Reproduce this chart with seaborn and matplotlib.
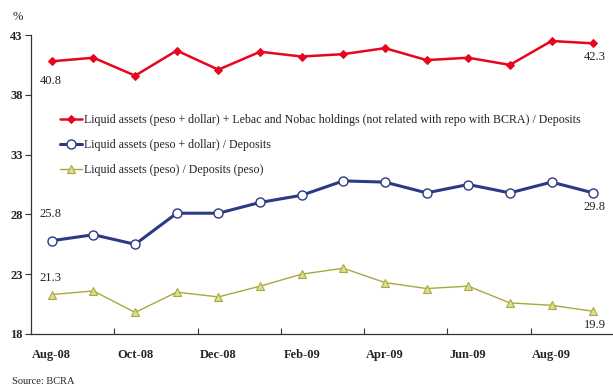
import matplotlib
matplotlib.use("Agg")
import matplotlib.pyplot as plt
import seaborn as sns
import pandas as pd

months = ["Aug-08", "Sep-08", "Oct-08", "Nov-08", "Dec-08", "Jan-09", "Feb-09",
          "Mar-09", "Apr-09", "May-09", "Jun-09", "Jul-09", "Aug-09", "Sep-09"]

liquid_plus_lebac = [40.8, 41.1, 39.6, 41.7, 40.1, 41.6, 41.2,
                     41.4, 41.9, 40.9, 41.1, 40.5, 42.5, 42.3]
liquid_total = [25.8, 26.3, 25.5, 28.1, 28.1, 29.0, 29.6,
                30.8, 30.7, 29.8, 30.5, 29.8, 30.7, 29.8]
liquid_peso = [21.3, 21.6, 19.8, 21.5, 21.1, 22.0, 23.0,
               23.5, 22.3, 21.8, 22.0, 20.6, 20.4, 19.9]

series_names = [
    "Liquid assets (peso + dollar) + Lebac and Nobac holdings (not related with repo with BCRA) / Deposits",
    "Liquid assets (peso + dollar) / Deposits",
    "Liquid assets (peso) / Deposits (peso)",
]
tick_labels = months[::2]
y_ticks = [18, 23, 28, 33, 38, 43]

sns.set_theme(style="white")
plt.rcParams["font.family"] = ["Liberation Serif", "DejaVu Serif"]

df = pd.DataFrame({"month": months,
                   "pos": range(len(months)),
                   "a": liquid_plus_lebac,
                   "b": liquid_total,
                   "c": liquid_peso})

fig = plt.figure(figsize=(6.13, 3.87), dpi=100)
ax = fig.add_axes([31 / 613, 53 / 387, 583 / 613, 299 / 387])

red = "#E8061E"
navy = "#2B3A84"
olive = "#A9A93A"

sns.lineplot(data=df, x="pos", y="a", ax=ax, color=red, lw=1.8,
             marker="D", markersize=4.5, markeredgecolor=red,
             markerfacecolor=red, label=series_names[0])
sns.lineplot(data=df, x="pos", y="b", ax=ax, color=navy, lw=2.2,
             marker="o", markersize=6.5, markeredgecolor=navy,
             markerfacecolor="white", markeredgewidth=1.0,
             label=series_names[1])
sns.lineplot(data=df, x="pos", y="c", ax=ax, color=olive, lw=1.0,
             marker="^", markersize=6, markeredgecolor=olive,
             markerfacecolor="#DCDC98", markeredgewidth=0.8,
             label=series_names[2])

ax.set_xlim(-0.5, len(months) - 0.5)
ax.set_ylim(18, 43)
ax.set_xlabel("")
ax.set_ylabel("")

# category labels on every other month, tick marks on category boundaries
ax.set_xticks(range(0, len(months), 2))
ax.set_xticklabels(tick_labels, fontweight="bold", fontsize=9)
ax.set_xticks([i + 1.5 for i in range(0, len(months) - 1, 2)], minor=True)
ax.tick_params(axis="x", which="major", length=0, pad=11)
ax.tick_params(axis="x", which="minor", direction="in", length=4,
               width=0.8, color="#333333", bottom=True)

ax.set_yticks(y_ticks)
ax.set_yticklabels([str(v) for v in y_ticks], fontweight="bold", fontsize=9)
ax.tick_params(axis="y", direction="out", length=4, width=0.8,
               color="#333333", left=True, pad=2)

for side in ["top", "right"]:
    ax.spines[side].set_visible(False)
for side in ["left", "bottom"]:
    ax.spines[side].set_color("#333333")
    ax.spines[side].set_linewidth(0.9)
ax.grid(False)

# first and last values
lbl = dict(fontsize=9, color="#222222")
ax.annotate(f"{liquid_plus_lebac[0]:.1f}", (0, liquid_plus_lebac[0]),
            xytext=(-1, -16), textcoords="offset points", ha="center", **lbl)
ax.annotate(f"{liquid_plus_lebac[-1]:.1f}", (13, liquid_plus_lebac[-1]),
            xytext=(1, -12), textcoords="offset points", ha="center", **lbl)
ax.annotate(f"{liquid_total[0]:.1f}", (0, liquid_total[0]),
            xytext=(-1, 17), textcoords="offset points", ha="center", **lbl)
ax.annotate(f"{liquid_total[-1]:.1f}", (13, liquid_total[-1]),
            xytext=(1, -12), textcoords="offset points", ha="center", **lbl)
ax.annotate(f"{liquid_peso[0]:.1f}", (0, liquid_peso[0]),
            xytext=(-1, 10), textcoords="offset points", ha="center", **lbl)
ax.annotate(f"{liquid_peso[-1]:.1f}", (13, liquid_peso[-1]),
            xytext=(1, -12), textcoords="offset points", ha="center", **lbl)

leg = ax.legend(loc="upper left", bbox_to_anchor=(0.042, 0.752), frameon=False,
                fontsize=8.6, handlelength=1.85, handletextpad=0.15,
                labelspacing=1.1, borderaxespad=0)
for t in leg.get_texts():
    t.set_color("#222222")

fig.text(13 / 613, 1 - 17 / 387, "%", fontsize=9, ha="left", va="center",
         color="#222222")
fig.text(12 / 613, 1 - 381 / 387, "Source: BCRA", fontsize=7.5, ha="left",
         va="center", color="#222222")

fig.savefig("out.png", dpi=100)
